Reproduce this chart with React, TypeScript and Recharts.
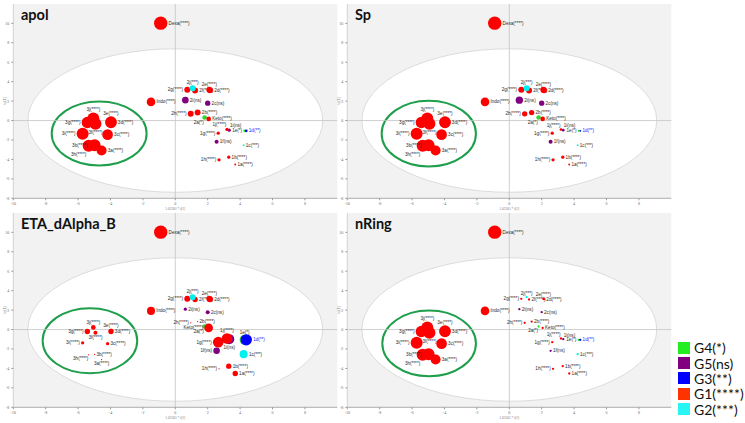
import React from 'react';
import { ScatterChart, Scatter, XAxis, YAxis, ZAxis, ReferenceArea, ReferenceLine } from 'recharts';

// compounds, in drawing order (later ones sit on top)
const NAMES = ['Dexa', 'Indo', '2h', '2b', '2a', 'Keto', '2i', '2c', '2g', '2f', '2j', '2e', '2d',
  '1i', '1j', '1g', '1e', '1d', '1f', '1c', '1b', '1h', '1a',
  '3j', '3g', '3f', '3e', '3d', '3i', '3c', '3h', '3b', '3a'];
const LABELS = ['Dexa(****)', 'Indo(****)', '2h(****)', '2b(****)', '2a(*)', 'Keto(****)', '2i(ns)', '2c(ns)',
  '2g(****)', '2f(****)', '2j(***)', '2e(****)', '2d(****)',
  '1i(ns)', '1j(****)', '1g(****)', '1e(*)', '1d(**)', '1f(ns)', '1c(***)', '1b(****)', '1h(****)', '1a(****)',
  '3j(****)', '3g(****)', '3f(****)', '3e(****)', '3d(****)', '3i(****)', '3c(****)', '3h(****)', '3b(****)', '3a(****)'];
const GROUPS = ['G1', 'G1', 'G1', 'G1', 'G4', 'G1', 'G5', 'G5', 'G1', 'G1', 'G2', 'G1', 'G1',
  'G5', 'G1', 'G1', 'G4', 'G3', 'G5', 'G2', 'G1', 'G1', 'G1',
  'G1', 'G1', 'G1', 'G1', 'G1', 'G1', 'G1', 'G1', 'G1', 'G1'];
// score plot coordinates (t[1], to[1])
const T1 = [-0.9, -1.5, 0.95, 1.38, 1.81, 2.06, 0.62, 2.0, 0.74, 1.22, 1.07, 2.1, 2.14,
  3.33, 3.19, 2.65, 4.28, 4.38, 2.55, 4.22, 3.3, 2.7, 3.7,
  -5.06, -5.43, -4.93, -3.97, -3.97, -5.72, -4.18, -5.35, -4.98, -4.55];
const TO1 = [10.02, 1.92, 0.69, 0.82, 0.31, 0.17, 2.1, 1.79, 3.16, 3.09, 3.33, 3.16, 3.12,
  -0.99, -0.92, -1.3, -1.06, -1.06, -2.19, -2.53, -3.77, -4.04, -4.52,
  0.22, -0.2, -0.34, -0.15, -0.2, -1.37, -1.45, -2.6, -2.55, -3.09];

// scaled descriptor value per compound (bubble size)
const APOL = [100, 41, 20, 20, 12, 12, 24, 16, 20, 20, 20, 20, 20,
  6, 6, 6, 4, 4, 9, 2, 6, 6, 2,
  80, 72, 80, 72, 72, 80, 63, 80, 80, 56];
const SP = [100, 41, 16, 16, 12, 12, 30, 16, 20, 20, 20, 20, 20,
  4, 4, 6, 2, 2, 9, 2, 6, 6, 2,
  80, 72, 80, 72, 72, 80, 63, 80, 80, 56];
const ETA = [100, 36, 1, 1, 12, 41, 6, 9, 20, 16, 20, 20, 20,
  56, 63, 63, 56, 72, 24, 36, 16, 1, 16,
  12, 16, 9, 12, 16, 6, 6, 1, 1, 1];
const NRING = [100, 41, 3, 3, 3, 3, 3, 3, 3, 3, 3, 3, 3,
  3, 3, 3, 3, 3, 3, 3, 3, 3, 3,
  80, 72, 80, 72, 72, 80, 63, 80, 80, 56];

const TITLES = ['apol', 'Sp', 'ETA_dAlpha_B', 'nRing'];
const SIZES = [APOL, SP, ETA, NRING];
// hand-drawn cluster ellipse: centre t[1], centre to[1], half width, half height
const CLUSTER = [
  [-4.7, -1.34, 2.93, 3.29],
  [-4.97, -1.35, 2.91, 3.38],
  [-5.27, -1.15, 2.92, 3.35],
  [-4.95, -1.43, 2.89, 3.38],
];
const HOTELLING = [9.1, 7.38];
const X_TICKS = [-10, -8, -6, -4, -2, 0, 2, 4, 6, 8];
const Y_TICKS = [-8, -6, -4, -2, 0, 2, 4, 6, 8, 10];

const LEGEND = ['G4(*)', 'G5(ns)', 'G3(**)', 'G1(****)', 'G2(***)'];
const LEGEND_KEYS = ['G4', 'G5', 'G3', 'G1', 'G2'];

const POINT_COLOR: Record<string, string> = {
  G1: '#ff0000', G2: '#00f0f0', G3: '#0000ff', G4: '#2ed82e', G5: '#800080',
};
const LEGEND_COLOR: Record<string, string> = {
  G1: '#ff3300', G2: '#2af5f5', G3: '#0000ff', G4: '#22ee22', G5: '#800080',
};

const LABEL_SIDE: Record<string, string> = {
  Dexa: 'r', Indo: 'r', '2h': 'l', '2b': 'r', '2a': 'bl', Keto: 'r', '2i': 'r', '2c': 'r',
  '2g': 'l', '2f': 'r', '2j': 't', '2e': 't', '2d': 'r',
  '1i': 'tr', '1j': 'tl', '1g': 'l', '1e': 'l', '1d': 'r', '1f': 'r', '1c': 'r', '1b': 'r', '1h': 'l', '1a': 'r',
  '3j': 't', '3g': 'l', '3f': 'b', '3e': 't', '3d': 'r', '3i': 'l', '3c': 'r', '3h': 'bl', '3b': 'l', '3a': 'r',
};
const LABEL_SIDE_ETA: Record<string, string> = {
  Keto: 'l', '1e': 't', '1f': 'l', '1i': 'b', '1j': 't', '3b': 'r', '3a': 'b',
};

const PANEL_POS = [[0, 0], [334, 0], [0, 208.5], [334, 208.5]];
const W = 345;
const H = 212;

const EllipseShape = (p: any) => (
  <ellipse
    cx={p.x + p.width / 2}
    cy={p.y + p.height / 2}
    rx={Math.abs(p.width) / 2}
    ry={Math.abs(p.height) / 2}
    fill={p.fill}
    fillOpacity={p.fillOpacity}
    stroke={p.stroke}
    strokeWidth={p.strokeWidth}
  />
);

function makePoint(panel: number) {
  return (p: any) => {
    const { cx, cy, payload } = p;
    const r = Math.max((p.width || 0) / 2, 0.6);
    const side = (panel === 2 && LABEL_SIDE_ETA[payload.name]) || LABEL_SIDE[payload.name] || 'r';
    let dx = r + 1.2;
    let dy = 1.6;
    let anchor = 'start';
    if (side === 'l') { dx = -r - 1.2; anchor = 'end'; }
    if (side === 't') { dx = 0; dy = -r - 1.2; anchor = 'middle'; }
    if (side === 'b') { dx = 0; dy = r + 4.4; anchor = 'middle'; }
    if (side === 'tl') { dx = -r * 0.4; dy = -r - 1.4; anchor = 'end'; }
    if (side === 'tr') { dx = r * 0.4; dy = -r - 1.4; anchor = 'start'; }
    if (side === 'bl') { dx = -r * 0.4; dy = r + 4.2; anchor = 'end'; }
    return (
      <g>
        <circle cx={cx} cy={cy} r={r} fill={POINT_COLOR[payload.group]} />
        <text
          x={cx + dx}
          y={cy + dy}
          textAnchor={anchor}
          fontSize={4.6}
          fontFamily="Liberation Sans, Arial, sans-serif"
          fill={payload.name === '1d' ? '#1a1aff' : '#2a2a2a'}
        >
          {payload.label}
        </text>
      </g>
    );
  };
}

function Panel({ index }: { index: number }) {
  const sizes = SIZES[index];
  const data = NAMES.map((name, i) => ({
    name, label: LABELS[i], group: GROUPS[i], x: T1[i], y: TO1[i], z: sizes[i],
  }));
  const [ecx, ecy, erx, ery] = CLUSTER[index];
  const [left, top] = PANEL_POS[index];
  return (
    <div style={{ position: 'absolute', left, top, width: W, height: H }}>
      <ScatterChart width={W} height={H} margin={{ top: 3.9, right: 7.7, bottom: 1.7, left: 0.3 }}>
        <XAxis
          type="number"
          dataKey="x"
          domain={[-10, 10]}
          ticks={X_TICKS}
          interval={0}
          height={12}
          tickSize={2}
          tick={{ fontSize: 4, fill: '#666' }}
          tickLine={{ stroke: '#999' }}
          axisLine={{ stroke: '#999', strokeWidth: 0.8 }}
          label={{ value: '1.03301 * t[1]', position: 'insideBottom', offset: 0, fontSize: 3.5, fill: '#777' }}
        />
        <YAxis
          type="number"
          dataKey="y"
          domain={[-8, 12]}
          ticks={Y_TICKS}
          interval={0}
          width={13}
          tickSize={2}
          tick={{ fontSize: 4, fill: '#666' }}
          tickLine={{ stroke: '#999' }}
          axisLine={{ stroke: '#bbb', strokeWidth: 0.6 }}
        />
        <ZAxis type="number" dataKey="z" domain={[0, 100]} range={[0, 141]} />
        <ReferenceArea x1={-10} x2={10} y1={-8} y2={12} fill="#f2f2f2" fillOpacity={1} stroke="none" />
        <ReferenceArea
          x1={-HOTELLING[0]} x2={HOTELLING[0]} y1={-HOTELLING[1]} y2={HOTELLING[1]}
          shape={EllipseShape} fill="#ffffff" fillOpacity={1} stroke="#d4d4d4" strokeWidth={0.8}
        />
        <ReferenceLine x={0} stroke="#c4c4c4" strokeWidth={0.8} />
        <ReferenceLine y={0} stroke="#c4c4c4" strokeWidth={0.8} />
        <ReferenceArea
          x1={ecx - erx} x2={ecx + erx} y1={ecy - ery} y2={ecy + ery}
          shape={EllipseShape} fill="none" fillOpacity={0} stroke="#1f9e4c" strokeWidth={2}
        />
        <Scatter data={data} shape={makePoint(index)} isAnimationActive={false} />
      </ScatterChart>
      <div
        style={{
          position: 'absolute', left: 1, top: 101, transform: 'translate(-50%, -50%) rotate(-90deg)',
          transformOrigin: 'center', fontFamily: 'Liberation Sans, Arial, sans-serif', fontSize: 3.5,
          color: '#777', whiteSpace: 'nowrap', marginLeft: 4,
        }}
      >
        to[1]
      </div>
      <div
        style={{
          position: 'absolute', left: 21, top: 7, fontFamily: 'Lato, sans-serif', fontWeight: 700,
          fontSize: 14.5, lineHeight: '16px', color: '#111', whiteSpace: 'nowrap',
        }}
      >
        {TITLES[index]}
      </div>
    </div>
  );
}

export default function App() {
  return (
    <div style={{ position: 'absolute', left: 0, top: 0, width: 745, height: 423, background: '#fff', overflow: 'hidden' }}>
      {TITLES.map((t, i) => (
        <Panel key={t} index={i} />
      ))}
      <div style={{ position: 'absolute', left: 678, top: 340 }}>
        {LEGEND.map((l, i) => (
          <div key={l} style={{ display: 'flex', alignItems: 'center', height: 15.35 }}>
            <div style={{ width: 12, height: 12, background: LEGEND_COLOR[LEGEND_KEYS[i]], flexShrink: 0 }} />
            <span style={{ marginLeft: 4, fontFamily: 'Lato, sans-serif', fontSize: 14, color: '#111', whiteSpace: 'nowrap' }}>
              {l}
            </span>
          </div>
        ))}
      </div>
    </div>
  );
}
